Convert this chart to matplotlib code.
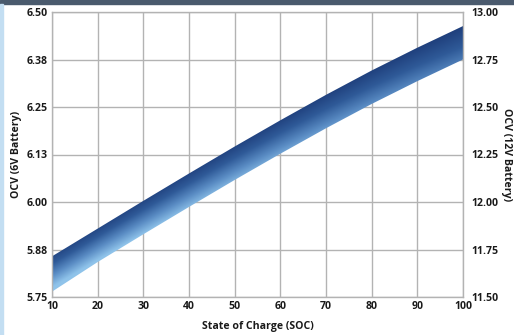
import numpy as np
import matplotlib
matplotlib.use("Agg")
import matplotlib.pyplot as plt
from matplotlib.colors import LinearSegmentedColormap
from matplotlib.patches import Rectangle

# State of charge (%) and open circuit voltage band for a 6V battery
soc = [10, 20, 30, 40, 50, 60, 70, 80, 90, 100]
ocv_high = [5.857, 5.930, 6.003, 6.075, 6.146, 6.215, 6.282, 6.346, 6.406, 6.463]
ocv_low = [5.764, 5.842, 5.915, 5.987, 6.058, 6.127, 6.194, 6.258, 6.318, 6.375]

left_ticks = [5.75, 5.875, 6.00, 6.125, 6.25, 6.375, 6.50]
left_labels = ["5.75", "5.88", "6.00", "6.13", "6.25", "6.38", "6.50"]
right_ticks = [11.50, 11.75, 12.00, 12.25, 12.50, 12.75, 13.00]
right_labels = ["11.50", "11.75", "12.00", "12.25", "12.50", "12.75", "13.00"]

plt.rcParams['font.family'] = ['Open Sans', 'DejaVu Sans']
fs = 7.6
txt = '#1a1a1a'

fig = plt.figure(figsize=(5.14, 3.35), dpi=100)
ax = fig.add_axes([52 / 514, 1 - 297 / 335, 411 / 514, 285 / 335])

# top bar and left edge of the card
fig.patches.append(Rectangle((0, 1 - 4 / 335), 1, 4 / 335, transform=fig.transFigure,
                             color='#4a5a6d', zorder=0))
fig.patches.append(Rectangle((0, 0), 2.5 / 514, 1 - 4 / 335, transform=fig.transFigure,
                             color='#c3def2', zorder=0))

ax.set_xlim(10, 100)
ax.set_ylim(5.75, 6.50)

# gradient fill clipped to the band
nx, ny = 400, 300
xs = np.linspace(10, 100, nx)
ys = np.linspace(5.75, 6.50, ny)
X, Y = np.meshgrid(xs, ys)
top = np.interp(X, soc, ocv_high)
bot = np.interp(X, soc, ocv_low)
across = np.clip((top - Y) / (top - bot), 0, 1)  # 0 at top edge, 1 at bottom edge
along = (X - 10) / 90
shade = np.clip(across * (1.0 - 0.45 * along) + 0.12 * (1 - along), 0, 1)
cmap = LinearSegmentedColormap.from_list('band', ['#1f3f7c', '#2f5a98', '#5a8cc4', '#8fc3ea'])
im = ax.imshow(shade, extent=(10, 100, 5.75, 6.50), origin='lower', aspect='auto',
               cmap=cmap, vmin=0, vmax=1, zorder=2, interpolation='bilinear')
band = ax.fill_between(soc, ocv_low, ocv_high, color='none', lw=0)
clip_path = band.get_paths()[0]
im.set_clip_path(clip_path, transform=ax.transData)

ax.set_xticks(soc)
ax.set_xticklabels([str(s) for s in soc])
ax.set_yticks(left_ticks)
ax.set_yticklabels(left_labels)
ax.grid(True, color='#b3b3b3', lw=1.0, zorder=1)
ax.set_axisbelow(True)
for s in ax.spines.values():
    s.set_color('#b3b3b3')
    s.set_linewidth(1.0)
ax.tick_params(axis='x', length=0, labelsize=fs, pad=3, colors=txt)
ax.tick_params(axis='y', length=0, labelsize=fs, pad=3, colors=txt)
for lab in ax.get_xticklabels() + ax.get_yticklabels():
    lab.set_fontweight('bold')
ax.set_xlabel('State of Charge (SOC)', fontsize=fs, fontweight='bold', labelpad=6, color=txt)
ax.set_ylabel('OCV (6V Battery)', fontsize=fs, fontweight='bold', labelpad=3, color=txt)

ax2 = ax.twinx()
ax2.set_ylim(11.50, 13.00)
ax2.set_yticks(right_ticks)
ax2.set_yticklabels(right_labels)
ax2.tick_params(length=0, labelsize=fs, pad=6, colors=txt)
for lab in ax2.get_yticklabels():
    lab.set_fontweight('bold')
for s in ax2.spines.values():
    s.set_visible(False)
ax2.set_ylabel('OCV (12V Battery)', fontsize=fs, fontweight='bold', rotation=270,
               labelpad=10, color=txt)

fig.savefig('out.png', dpi=100)
